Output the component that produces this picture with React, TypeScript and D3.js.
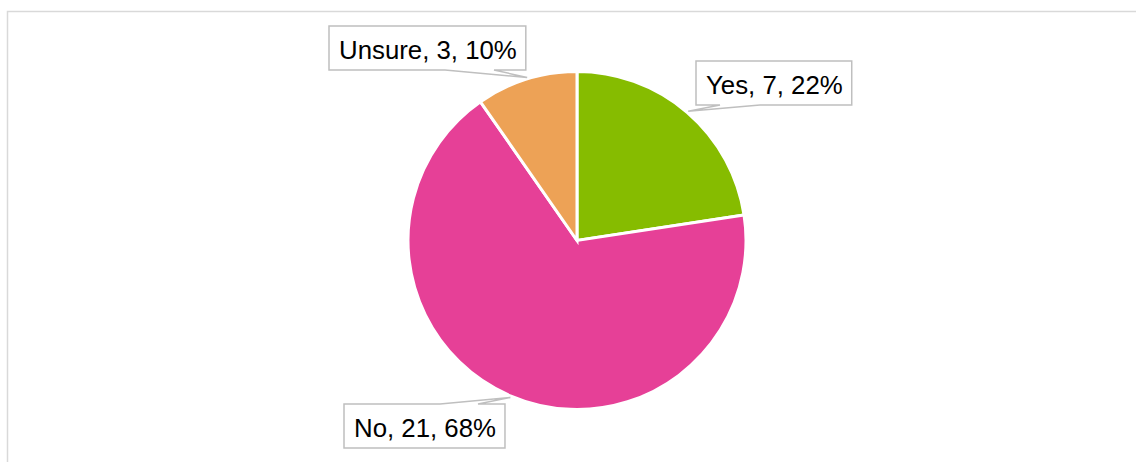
import React, { useLayoutEffect, useRef, useState } from "react";
import * as d3 from "d3";

const categories = ["Yes", "No", "Unsure"];
const counts = [7, 21, 3];
const percents = ["22%", "68%", "10%"];
const colors = ["#86bc00", "#e64097", "#eda256"];

const W = 1136;
const H = 462;
const cx = 577;
const cy = 240.5;
const R = 169;

// label layout: box top-left, pointer angle (deg), wedge base offsets
const layout: Record<string, { x: number; y: number; ang: number; side: "top" | "bottom"; b1: number; b2: number }> = {
  Yes: { x: 696, y: 61, ang: 40.7, side: "bottom", b1: 24, b2: 64 },
  No: { x: 344, y: 404, ang: 203, side: "top", b1: 96, b2: 134 },
  Unsure: { x: 329, y: 26, ang: 343, side: "bottom", b1: 116, b2: 165 },
};

const FONT = "'Liberation Sans', Arial, sans-serif";
const FS = 25.8;
const BOX_H = 44;
const PAD = 10;

export default function App() {
  const textRefs = useRef<(SVGTextElement | null)[]>([]);
  const [widths, setWidths] = useState<number[]>([140, 150, 180]);

  const data = categories.map((c, i) => ({ c, v: counts[i], p: percents[i], col: colors[i] }));
  const pie = d3.pie<any>().value((d) => d.v).sort(null).startAngle(0).endAngle(2 * Math.PI);
  const arcs = pie(data);
  const arc = d3.arc<any>().innerRadius(0).outerRadius(R);

  useLayoutEffect(() => {
    const w = textRefs.current.map((t) => (t ? t.getComputedTextLength() : 100));
    if (w.some((x, i) => Math.abs(x - widths[i]) > 0.5)) setWidths(w);
  }, []);

  return (
    <svg
      width={W}
      height={H}
      style={{ position: "fixed", left: 0, top: 0, background: "#fff" }}
      fontFamily={FONT}
    >
      <rect x={7.5} y={11.5} width={1300} height={600} fill="#fff" stroke="#d9d9d9" strokeWidth={1.5} />
      <g transform={`translate(${cx},${cy})`}>
        {arcs.map((a, i) => (
          <path key={i} d={arc(a) as string} fill={a.data.col} stroke="#fff" strokeWidth={3} strokeLinejoin="miter" />
        ))}
      </g>
      {arcs.map((a, i) => {
        const L = layout[a.data.c];
        const bw = widths[i] + PAD * 2 - 1;
        const rad = (L.ang * Math.PI) / 180;
        const px = cx + (R + 1.5) * Math.sin(rad);
        const py = cy - (R + 1.5) * Math.cos(rad);
        const x0 = L.x, y0 = L.y, x1 = L.x + bw, y1 = L.y + BOX_H;
        let d: string;
        if (L.side === "bottom") {
          d = `M${x0},${y0}H${x1}V${y1}H${x0 + L.b2}L${px},${py}L${x0 + L.b1},${y1}H${x0}Z`;
        } else {
          d = `M${x0},${y0}H${x0 + L.b1}L${px},${py}L${x0 + L.b2},${y0}H${x1}V${y1}H${x0}Z`;
        }
        return (
          <g key={i}>
            <path d={d} fill="#fff" stroke="#bfbfbf" strokeWidth={1.5} />
            <text
              ref={(el) => (textRefs.current[i] = el)}
              x={x0 + PAD}
              y={y0 + 33}
              fontSize={FS}
              fill="#000"
            >
              {`${a.data.c}, ${a.data.v}, ${a.data.p}`}
            </text>
          </g>
        );
      })}
    </svg>
  );
}
